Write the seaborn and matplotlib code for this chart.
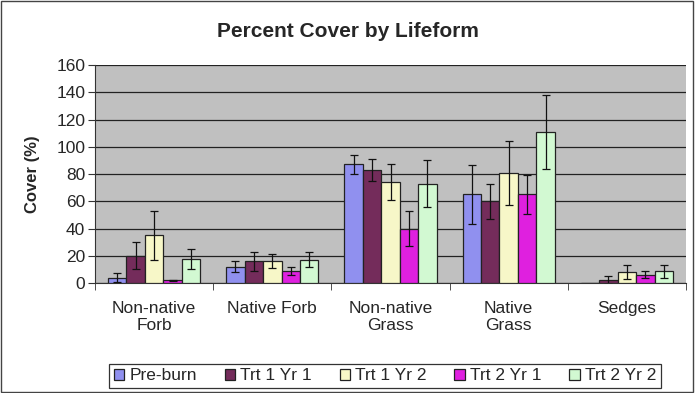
import numpy as np
import pandas as pd
import matplotlib
matplotlib.use('Agg')
import matplotlib.pyplot as plt
import seaborn as sns

# ── Data ──────────────────────────────────────────────────────
categories = ['Non-native\nForb', 'Native Forb', 'Non-native\nGrass', 'Native\nGrass', 'Sedges']
series     = ['Pre-burn', 'Trt 1 Yr 1', 'Trt 1 Yr 2', 'Trt 2 Yr 1', 'Trt 2 Yr 2']

pre_burn   = [4, 12, 87, 65, 0]
trt1_yr1   = [20, 16, 83, 60, 2.5]
trt1_yr2   = [35, 16, 74, 81, 8]
trt2_yr1   = [2, 9, 40, 65, 6]
trt2_yr2   = [17.5, 17, 73, 111, 8.5]

pre_burn_err = [3.5, 4, 7, 21.5, 0]
trt1_yr1_err = [10, 7, 8, 13, 3]
trt1_yr2_err = [18, 5, 13, 23.5, 5]
trt2_yr1_err = [0.5, 3, 13, 14, 2.5]
trt2_yr2_err = [7.5, 5.5, 17, 27, 4.5]

values = [pre_burn, trt1_yr1, trt1_yr2, trt2_yr1, trt2_yr2]
errors = [pre_burn_err, trt1_yr1_err, trt1_yr2_err, trt2_yr1_err, trt2_yr2_err]
colors = ['#8080ff', '#80205f', '#ffffc0', '#ff00ff', '#ccffcc']

df = pd.DataFrame([
    {'Lifeform': c, 'Series': s, 'Cover': v}
    for s, vals in zip(series, values)
    for c, v in zip(categories, vals)
])

# ── Plot ──────────────────────────────────────────────────────
sns.set_style('white')
plt.rcParams['font.family'] = ['Liberation Sans', 'DejaVu Sans']

fig = plt.figure(figsize=(6.96, 3.93), dpi=100)
ax = fig.add_axes([95/696, 1 - 283/393, (686-95)/696, (283-65)/393])

sns.barplot(data=df, x='Lifeform', y='Cover', hue='Series', order=categories,
            hue_order=series, palette=colors, errorbar=None, width=0.78,
            edgecolor='#222222', linewidth=0.9, ax=ax, legend=True, zorder=3)

# error bars from bar centres
for cont, errs in zip(ax.containers, errors):
    for bar, e in zip(cont, errs):
        if e <= 0:
            continue
        xc = bar.get_x() + bar.get_width() / 2
        ax.errorbar(xc, bar.get_height(), yerr=e, color='#111111', lw=0.9,
                    capsize=3, capthick=0.9, zorder=4)

ax.set_facecolor('#c0c0c0')
ax.set_ylim(0, 160)
ax.set_yticks(np.arange(0, 161, 20))
ax.set_xlim(-0.5, len(categories) - 0.5)
ax.yaxis.grid(True, color='#222222', lw=0.9, zorder=0)
ax.set_axisbelow(True)
for sp in ['top', 'right']:
    ax.spines[sp].set_visible(False)
ax.spines['left'].set_color('#333333')
ax.spines['bottom'].set_color('#333333')

ax.tick_params(axis='y', labelsize=12.5, length=5, left=True, color='#333333', pad=2)
ax.tick_params(axis='x', which='major', length=0, labelsize=12.5, pad=13)
ax.set_xticks(np.arange(-0.5, len(categories), 1.0), minor=True)
ax.tick_params(axis='x', which='minor', length=5, bottom=True, color='#333333')
ax.set_xlabel('')
ax.set_ylabel('Cover (%)', fontsize=12, fontweight='bold', labelpad=12)

fig.suptitle('Percent Cover by Lifeform', fontsize=15, fontweight='bold', y=0.945)

handles, labels = ax.get_legend_handles_labels()
ax.get_legend().remove()
leg = fig.legend(handles, labels, loc='center', ncol=5, fontsize=12.5,
                 bbox_to_anchor=(385/696, 1 - 376/393), frameon=True, fancybox=False,
                 handlelength=0.6, handleheight=0.6, handletextpad=0.3,
                 columnspacing=1.6, borderpad=0.25)
leg.get_frame().set_edgecolor('black')
leg.get_frame().set_linewidth(0.9)

fig.patches.append(plt.Rectangle((0.002, 0.003), 0.993, 0.994, transform=fig.transFigure,
                                 fill=False, edgecolor='#444444', lw=1))

plt.savefig('out.png', dpi=100)
plt.close()
